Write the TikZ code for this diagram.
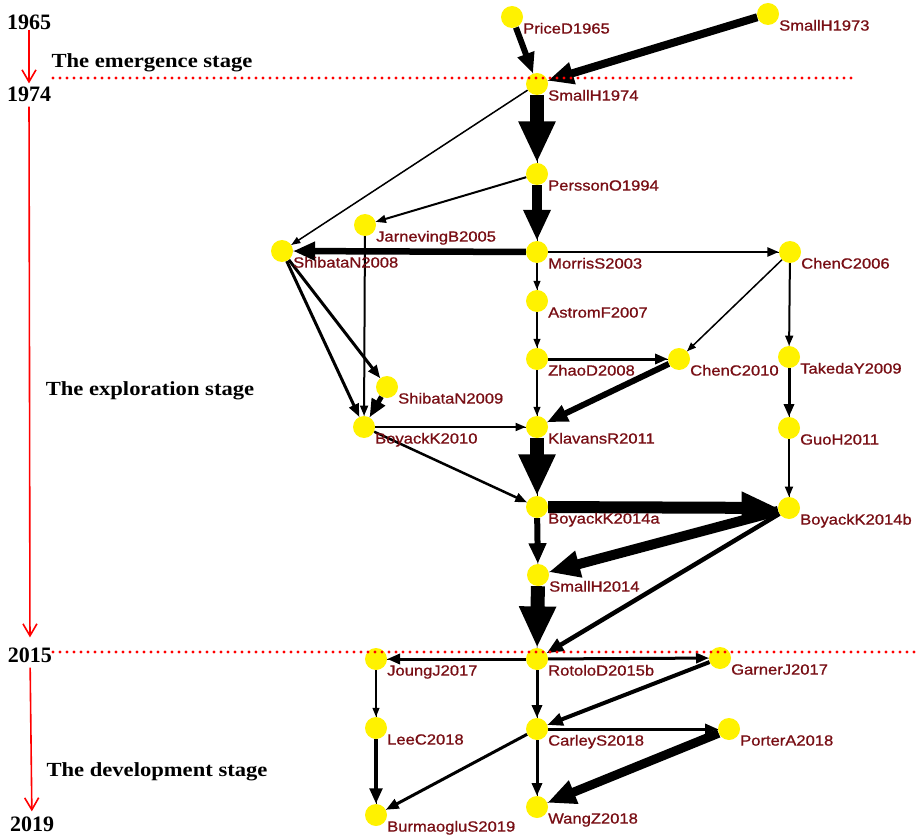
\documentclass[tikz,border=0pt]{standalone}
\usepackage{fontspec}
\usetikzlibrary{arrows.meta,backgrounds}

\newfontfamily\labelfont{Liberation Sans}[FakeStretch=1.12, FakeBold=0.9]
\newfontfamily\stagefont{Liberation Serif}[FakeStretch=1.13]
\newfontfamily\yearfont{Liberation Serif}
\definecolor{labelred}{RGB}{120,14,20}

\begin{document}
\begin{tikzpicture}[x=1pt, y=-1pt,
	paper/.style={circle, fill=yellow, minimum size=22pt, inner sep=0pt},
	plabel/.style={anchor=base west, inner sep=0pt, text=labelred, font=\labelfont\fontsize{14.8}{16}\selectfont},
	cite/.style={draw=black, line width=#1pt, -{Triangle[length=5pt 2.6, width=3.5pt 2.2]}, preaction={draw, -}},
	yearlabel/.style={inner sep=0pt, font=\yearfont\bfseries\fontsize{22}{24}\selectfont},
	stagelabel/.style={anchor=base, inner sep=0pt, font=\stagefont\bfseries\fontsize{20}{22}\selectfont},
	timeline/.style={red, line width=1.6pt, -{Straight Barb[length=12pt, width=14pt, line width=1.6pt]}},
	stageline/.style={red, line width=3.3pt, line cap=round, dash pattern=on 0pt off 7pt}]

	\useasboundingbox (0,0) rectangle (921,837);

	% papers
	\foreach \n/\x/\y in {PriceD1965/512/17, SmallH1973/768/14, SmallH1974/537/84,
		PerssonO1994/537/174, JarnevingB2005/365/225, ShibataN2008/282/251,
		MorrisS2003/537/252, ChenC2006/790/252, AstromF2007/537/301,
		ZhaoD2008/537/359, ChenC2010/679/359, TakedaY2009/789/357,
		ShibataN2009/387/387, BoyackK2010/364/427, KlavansR2011/537/427,
		GuoH2011/789/428, BoyackK2014a/537/507, BoyackK2014b/789/508,
		SmallH2014/538/575, RotoloD2015b/537/659, JoungJ2017/376/659,
		GarnerJ2017/720/658, LeeC2018/376/728, CarleyS2018/537/729,
		PorterA2018/729/729, BurmaogluS2019/376/815, WangZ2018/537/807}
	{
		\node[paper] (\n) at (\x,\y) {};
		\node[plabel] (\n-t) at ([shift={(11,16.6)}]\n.center) {\n};
	}

	% citations
	\begin{scope}[on background layer]
	\draw[cite=6] (PriceD1965) -- (SmallH1974);
	\draw[cite=8] (SmallH1973) -- (SmallH1974);
	\draw[cite=14] (SmallH1974) -- (PerssonO1994);
	\draw[cite=1.5] (SmallH1974) -- (ShibataN2008);
	\draw[cite=10] (PerssonO1994) -- (MorrisS2003);
	\draw[cite=2] (PerssonO1994) -- (JarnevingB2005);
	\draw[cite=6.5] (MorrisS2003) -- (ShibataN2008);
	\draw[cite=2.5] (MorrisS2003) -- (ChenC2006);
	\draw[cite=1.5] (MorrisS2003) -- (AstromF2007);
	\draw[cite=1.5] (AstromF2007) -- (ZhaoD2008);
	\draw[cite=3] (ZhaoD2008) -- (ChenC2010);
	\draw[cite=1.5] (ZhaoD2008) -- (KlavansR2011);
	\draw[cite=1.5] (ChenC2006) -- (ChenC2010);
	\draw[cite=2] (ChenC2006) -- (TakedaY2009);
	\draw[cite=3] (TakedaY2009) -- (GuoH2011);
	\draw[cite=6] (ChenC2010) -- (KlavansR2011);
	\draw[cite=2] (JarnevingB2005) -- (BoyackK2010);
	\draw[cite=3] (ShibataN2008) -- (BoyackK2010);
	\draw[cite=3] (ShibataN2008) -- (ShibataN2009);
	\draw[cite=5] (ShibataN2009) -- (BoyackK2010);
	\draw[cite=2] (BoyackK2010) -- (KlavansR2011);
	\draw[cite=2.5] (BoyackK2010) -- (BoyackK2014a);
	\draw[cite=14] (KlavansR2011) -- (BoyackK2014a);
	\draw[cite=2] (GuoH2011) -- (BoyackK2014b);
	\draw[cite=12] (BoyackK2014a) -- (BoyackK2014b);
	\draw[cite=6] (BoyackK2014a) -- (SmallH2014);
	\draw[cite=10] (BoyackK2014b) -- (SmallH2014);
	\draw[cite=4.5] (BoyackK2014b) -- (RotoloD2015b);
	\draw[cite=14] (SmallH2014) -- (RotoloD2015b);
	\draw[cite=3] (RotoloD2015b) -- (JoungJ2017);
	\draw[cite=3] (RotoloD2015b) -- (GarnerJ2017);
	\draw[cite=3] (RotoloD2015b) -- (CarleyS2018);
	\draw[cite=4] (GarnerJ2017) -- (CarleyS2018);
	\draw[cite=1.5] (JoungJ2017) -- (LeeC2018);
	\draw[cite=4] (LeeC2018) -- (BurmaogluS2019);
	\draw[cite=3] (CarleyS2018) -- (BurmaogluS2019);
	\draw[cite=3] (CarleyS2018) -- (PorterA2018);
	\draw[cite=3] (CarleyS2018) -- (WangZ2018);
	\draw[cite=9] (PorterA2018) -- (WangZ2018);
	\end{scope}

	% time axis
	\node[yearlabel] (y1965) at (29,22) {1965};
	\node[yearlabel] (y1974) at (29,94) {1974};
	\node[yearlabel] (y2015) at (30,655) {2015};
	\node[yearlabel] (y2019) at (32,824) {2019};
	\draw[timeline, shorten >=3pt] (y1965) -- (y1974);
	\draw[timeline, shorten <=5pt, shorten >=10pt] (y1974) -- (y2015);
	\draw[timeline, shorten <=5pt, shorten >=5pt] (y2015) -- (y2019);

	% stages
	\node[stagelabel] (emergence) at (152,68) {The emergence stage};
	\node[stagelabel] (exploration) at (150,395) {The exploration stage};
	\node[stagelabel] (development) at (157,776) {The development stage};
	\draw[stageline] (53,78) -- (853,78);
	\draw[stageline] (53,652) -- (916,652);

\end{tikzpicture}
\end{document}
